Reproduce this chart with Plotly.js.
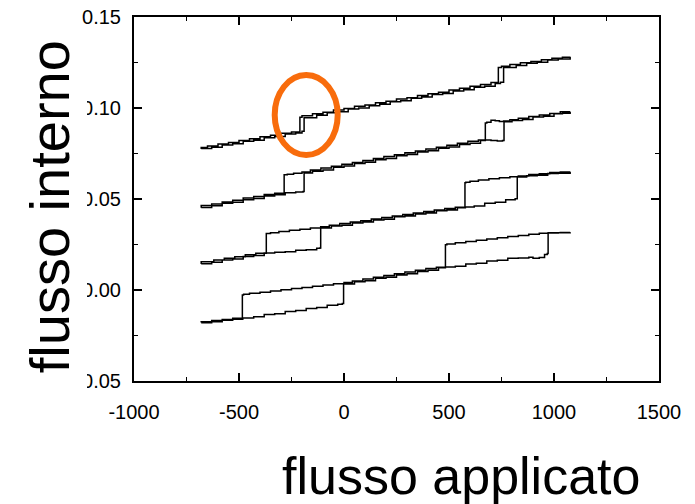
<!DOCTYPE html>
<html>
<head>
<meta charset="utf-8">
<script src="https://cdn.plot.ly/plotly-3.0.1.min.js"></script>
<style>
  html, body { margin: 0; padding: 0; background: #ffffff; }
  #chart { width: 695px; height: 504px; }
</style>
</head>
<body>
<div id="chart"></div>
<script>
// ---- Data ----
// Each curve: sweep up (x increasing) followed by sweep down (x decreasing)

// Curve 1 (top)
const c1x = [-680,-630,-580,-530,-480,-430,-380,-330,-280,-230,-200,-190,-130,-80,-30,20,70,120,170,220,270,320,370,420,470,520,570,620,670,720,745,760,820,870,920,970,1020,1077,
             1077,1040,990,940,890,840,790,750,735,700,650,600,550,500,450,400,350,300,250,200,150,100,50,0,-50,-100,-150,-200,-210,-250,-300,-350,-400,-450,-500,-550,-600,-650,-680];
const c1y = [0.0778,0.0784,0.0797,0.0803,0.0817,0.0823,0.0836,0.0843,0.0857,0.0862,0.0872,0.0947,0.0960,0.0974,0.0980,0.0994,0.1000,0.1013,0.1020,0.1034,0.1040,0.1053,0.1060,0.1074,0.1080,0.1093,0.1100,0.1114,0.1120,0.1134,0.1142,0.1222,0.1234,0.1246,0.1251,0.1264,0.1269,0.1281,
             0.1279,0.1273,0.1265,0.1256,0.1248,0.1239,0.1230,0.1223,0.1140,0.1129,0.1119,0.1108,0.1099,0.1087,0.1078,0.1069,0.1057,0.1049,0.1037,0.1029,0.1017,0.1009,0.0997,0.0989,0.0977,0.0969,0.0957,0.0949,0.0868,0.0861,0.0850,0.0842,0.0831,0.0822,0.0811,0.0802,0.0791,0.0783,0.0775];

// Curve 2
const c2x = [-680,-630,-580,-530,-480,-430,-380,-330,-280,-230,-195,-190,-150,-100,-50,0,50,100,150,200,250,300,350,400,450,500,550,600,650,673,700,730,755,762,800,850,900,950,1000,1040,1077,
             1077,1030,980,930,880,830,790,760,740,720,700,680,673,640,590,540,490,440,390,340,290,240,190,140,90,40,-10,-60,-110,-160,-200,-240,-270,-285,-330,-380,-430,-480,-530,-580,-630,-680];
const c2y = [0.0453,0.0463,0.0476,0.0482,0.0496,0.0503,0.0517,0.0524,0.0534,0.0539,0.0541,0.0643,0.0653,0.0660,0.0674,0.0681,0.0695,0.0702,0.0716,0.0723,0.0737,0.0744,0.0758,0.0765,0.0779,0.0786,0.0800,0.0807,0.0821,0.0824,0.0821,0.0818,0.0822,0.0925,0.0932,0.0937,0.0950,0.0955,0.0968,0.0971,0.0980,
             0.0979,0.0970,0.0962,0.0953,0.0944,0.0935,0.0929,0.0926,0.0930,0.0933,0.0922,0.0918,0.0824,0.0817,0.0806,0.0796,0.0785,0.0775,0.0764,0.0754,0.0743,0.0733,0.0722,0.0712,0.0701,0.0691,0.0680,0.0670,0.0659,0.0649,0.0641,0.0636,0.0633,0.0531,0.0525,0.0514,0.0505,0.0493,0.0484,0.0472,0.0464,0.0452];

// Curve 3
const c3x = [-680,-630,-580,-530,-480,-430,-380,-330,-280,-230,-180,-130,-115,-111,-60,-10,40,90,140,190,240,290,340,390,440,490,540,578,620,670,720,770,815,825,870,920,970,1020,1077,
             1077,1030,980,930,880,830,790,740,690,640,600,580,576,530,480,430,380,330,280,230,180,130,80,30,-20,-70,-111,-160,-210,-260,-310,-350,-370,-420,-470,-520,-570,-620,-680];
const c3y = [0.0144,0.0153,0.0165,0.0171,0.0184,0.0190,0.0203,0.0207,0.0210,0.0219,0.0221,0.0230,0.0231,0.0341,0.0352,0.0356,0.0368,0.0373,0.0385,0.0389,0.0402,0.0406,0.0418,0.0423,0.0435,0.0440,0.0452,0.0456,0.0462,0.0476,0.0482,0.0496,0.0502,0.0621,0.0628,0.0630,0.0640,0.0642,0.0650,
             0.0649,0.0645,0.0639,0.0634,0.0627,0.0622,0.0617,0.0611,0.0604,0.0597,0.0592,0.0589,0.0455,0.0448,0.0440,0.0432,0.0423,0.0415,0.0406,0.0398,0.0390,0.0381,0.0373,0.0365,0.0356,0.0348,0.0341,0.0334,0.0328,0.0321,0.0315,0.0310,0.0202,0.0193,0.0183,0.0174,0.0165,0.0155,0.0143];

// Curve 4 (bottom)
const c4x = [-680,-630,-580,-530,-482,-430,-380,-330,-280,-230,-180,-130,-80,-30,-8,-2,50,100,150,200,250,300,350,400,450,483,530,580,630,680,730,780,830,880,900,930,955,968,972,1020,1077,
             1077,1030,972,930,880,830,780,730,680,630,580,530,490,483,440,390,340,290,240,190,140,90,40,0,-50,-100,-150,-200,-250,-300,-350,-400,-450,-478,-484,-530,-580,-630,-680];
const c4y = [-0.0180,-0.0174,-0.0166,-0.0161,-0.0154,-0.0147,-0.0135,-0.0130,-0.0118,-0.0113,-0.0101,-0.0096,-0.0084,-0.0078,-0.0074,0.0033,0.0045,0.0051,0.0064,0.0070,0.0083,0.0089,0.0102,0.0108,0.0122,0.0126,0.0131,0.0143,0.0147,0.0159,0.0163,0.0175,0.0176,0.0180,0.0174,0.0178,0.0195,0.0200,0.0313,0.0314,0.0317,
             0.0316,0.0315,0.0312,0.0307,0.0300,0.0294,0.0287,0.0280,0.0273,0.0267,0.0260,0.0253,0.0248,0.0125,0.0118,0.0108,0.0099,0.0089,0.0079,0.0070,0.0060,0.0050,0.0041,0.0034,0.0027,0.0020,0.0014,0.0008,0.0001,-0.0005,-0.0012,-0.0018,-0.0024,-0.0028,-0.0155,-0.0162,-0.0167,-0.0175,-0.0179];

// Axis ticks
const xTickVals = [-1000, -500, 0, 500, 1000, 1500];
const xTickText = ['-1000', '-500', '0', '500', '1000', '1500'];
const yTickVals = [-0.05, 0.00, 0.05, 0.10, 0.15];
const yTickText = ['-0.05', '0.00', '0.05', '0.10', '0.15'];

// Titles
const xTitle = 'flusso applicato';
const yTitle = 'flusso interno';

// Highlight ellipse (data coordinates)
const highlight = { x0: -330, x1: -30, y0: 0.0742, y1: 0.1181 };

// ---- Figure ----
const FONT = 'Liberation Sans, Arial, sans-serif';
const curves = [[c1x, c1y], [c2x, c2y], [c3x, c3y], [c4x, c4y]];
const traces = curves.map(([x, y]) => ({
  type: 'scatter', mode: 'lines', x: x, y: y,
  line: { color: '#000000', width: 1.5, shape: 'hv' },
  hoverinfo: 'skip', showlegend: false
}));

const axisCommon = {
  showgrid: false, zeroline: false,
  showline: true, linecolor: '#000000', linewidth: 2,
  mirror: 'ticks', ticks: 'inside', ticklen: 8, tickwidth: 1.5, tickcolor: '#000000',
  tickfont: { family: FONT, size: 20, color: '#000000' },
  tickmode: 'array'
};

const layout = {
  width: 695, height: 504,
  paper_bgcolor: '#ffffff', plot_bgcolor: '#ffffff',
  margin: { l: 134, r: 36, t: 17, b: 123 },
  showlegend: false,
  xaxis: Object.assign({}, axisCommon, {
    range: [-1000, 1500], tickvals: xTickVals, ticktext: xTickText,
    ticklabelstandoff: 12,
    minor: { ticks: 'inside', ticklen: 4, tickwidth: 1.5, tickcolor: '#000000', dtick: 250, showgrid: false }
  }),
  yaxis: Object.assign({}, axisCommon, {
    range: [-0.05, 0.15], tickvals: yTickVals, ticktext: yTickText,
    ticklabelstandoff: 7,
    minor: { ticks: 'inside', ticklen: 4, tickwidth: 1.5, tickcolor: '#000000', dtick: 0.025, showgrid: false }
  }),
  shapes: [
    { type: 'rect', xref: 'paper', yref: 'paper', x0: -0.26, x1: -0.0895, y0: -0.045, y1: 0.955,
      fillcolor: '#ffffff', line: { width: 0 }, layer: 'above' },
    { type: 'circle', xref: 'x', yref: 'y', x0: highlight.x0, x1: highlight.x1, y0: highlight.y0, y1: highlight.y1,
      line: { color: '#F86C0C', width: 6 }, fillcolor: 'rgba(0,0,0,0)', layer: 'above' }
  ],
  annotations: [
    { text: yTitle, xref: 'paper', yref: 'paper', x: -0.162, y: 0.48, textangle: -90,
      xanchor: 'center', yanchor: 'middle', showarrow: false,
      font: { family: FONT, size: 56, color: '#000000' } },
    { text: xTitle, xref: 'paper', yref: 'paper', x: 0.622, y: -0.26,
      xanchor: 'center', yanchor: 'middle', showarrow: false,
      font: { family: FONT, size: 52, color: '#000000' } }
  ]
};

Plotly.newPlot('chart', traces, layout, { displayModeBar: false, staticPlot: true });
</script>
</body>
</html>
